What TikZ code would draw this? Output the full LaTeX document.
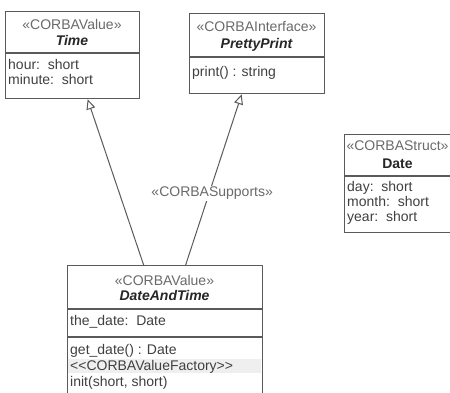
\documentclass[tikz,border=0pt]{standalone}
\usepackage{fontspec}
\setmainfont{Liberation Sans}
\usetikzlibrary{arrows.meta}

\definecolor{boxgray}{HTML}{5A5A5A}
\definecolor{txtgray}{HTML}{404040}
\definecolor{stgray}{HTML}{6A6A6A}
\definecolor{bandgray}{HTML}{EFEFEF}

\tikzset{
    classbox/.style={draw=boxgray, line width=1.3pt, fill=white, inner sep=0pt, anchor=north west},
    divider/.style={draw=boxgray, line width=1.3pt},
    stereo/.style={text=stgray, anchor=base, font=\fontsize{14}{15}\selectfont, inner sep=0pt},
    cname/.style={text=black!85, anchor=base, font=\fontsize{14}{15}\selectfont\bfseries\itshape, inner sep=0pt},
    member/.style={text=txtgray, anchor=base west, font=\fontsize{14}{15}\selectfont, inner sep=0pt},
    generalize/.style={draw=boxgray, line width=1pt, -{Triangle[open, length=10pt, width=9pt, fill=white]}}
}

\begin{document}
\begin{tikzpicture}[x=1pt, y=-1pt]
        \useasboundingbox (0,0) rectangle (450,393);

        % class boxes
        \node[classbox, minimum width=134pt, minimum height=87pt] (time) at (5,11) {};
        \node[classbox, minimum width=135pt, minimum height=80pt] (pretty) at (189,13) {};
        \node[classbox, minimum width=107pt, minimum height=98pt] (date) at (344,134) {};
        \node[classbox, minimum width=195pt, minimum height=132pt] (dat) at (67,265) {};

        \draw[divider] (5,53) -- (139,53);
        \draw[divider] (189,57) -- (324,57);
        \draw[divider] (344,176) -- (451,176);
        \foreach \y in {309,337} {
            \draw[divider] (67,\y) -- (262,\y);
        }
        \fill[bandgray] (68,359) rectangle (261,373);

        % Time
        \node[stereo] (timeSt) at (72,30) {«CORBAValue»};
        \node[cname] (timeNm) at (72,46) {Time};
        \node[member] (hour) at (8,70) {hour:\ \ short};
        \node[member] (minute) at (8,85) {minute:\ \ short};

        % PrettyPrint
        \node[stereo] (prettySt) at (256.5,32) {«CORBAInterface»};
        \node[cname] (prettyNm) at (256.5,49) {PrettyPrint};
        \node[member] (print) at (192,77) {print() : string};

        % Date
        \node[stereo] (dateSt) at (397.5,151) {«CORBAStruct»};
        \node[cname, font=\fontsize{14}{15}\selectfont\bfseries] (dateNm) at (397.5,168) {Date};
        \node[member] (day) at (347,191) {day:\ \ short};
        \node[member] (month) at (347,206) {month:\ \ short};
        \node[member] (year) at (347,221) {year:\ \ short};

        % DateAndTime
        \node[stereo] (datSt) at (164.5,285) {«CORBAValue»};
        \node[cname] (datNm) at (164.5,300) {DateAndTime};
        \node[member] (theDate) at (70,325) {the\_date:\ \ Date};
        \node[member] (getDate) at (70,354) {get\_date() : Date};
        \node[member] (factory) at (70,370) {<{}<CORBAValueFactory>{}>};
        \node[member] (init) at (70,386) {init(short, short)};

        % generalizations
        \draw[generalize] ([xshift=-21.5pt]dat.north) -- ([xshift=15pt]time.south);
        \draw[generalize] ([xshift=20.5pt]dat.north) --
            node[stereo, anchor=center, pos=0.42, xshift=3pt, fill=white, inner sep=1pt] (supports) {«CORBASupports»}
            ([xshift=-15.5pt]pretty.south);

    \end{tikzpicture}
\end{document}
